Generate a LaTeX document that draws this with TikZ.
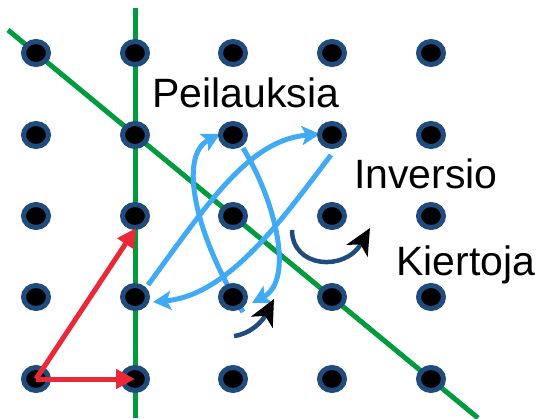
\documentclass[tikz,border=0pt]{standalone}
\usepackage{fontspec}
\setmainfont{Liberation Sans}
\usetikzlibrary{arrows.meta,shapes.geometric}
\definecolor{ringnavy}{RGB}{31,75,125}
\definecolor{axisgreen}{RGB}{0,155,60}
\definecolor{vecred}{RGB}{234,40,56}
\definecolor{flipblue}{RGB}{64,170,246}
\begin{document}
\begin{tikzpicture}[x=1pt,y=-1pt,
  dot/.style={ellipse,draw=ringnavy,fill=black,line width=5pt,
    minimum width=25pt,minimum height=23pt,inner sep=0pt},
  axis/.style={axisgreen,line width=5pt},
  vec/.style={vecred,line width=5pt,-{Triangle[length=19pt,width=19pt]}},
  flip/.style={flipblue,line width=5pt,-{Stealth[length=18pt,width=19pt,inset=4pt]}},
  turn/.style={ringnavy,line width=4.5pt,-{Stealth[length=26pt,width=24pt,inset=7pt,black]}},
  lbl/.style={anchor=base west,inner sep=0pt,font=\fontsize{41}{49}\selectfont}]
\useasboundingbox (0,0) rectangle (538,418);

% symmetry axes
\coordinate (vtop) at (135,8);
\coordinate (vbot) at (135,418);
\coordinate (dtop) at (8,30);
\coordinate (dbot) at (478,418);
\draw[axis] (vtop) -- (vbot);
\draw[axis] (dtop) -- (dbot);

% reflections (light blue loops)
\coordinate (b1s) at (148,285); \coordinate (b1e) at (320,134);
\coordinate (b2s) at (331,155); \coordinate (b2e) at (153,302);
\coordinate (b3s) at (243,312); \coordinate (b3e) at (220,134);
\coordinate (b4s) at (243,148); \coordinate (b4e) at (252,303);
\draw[flip] (b1s) .. controls (210,200) and (250,140) .. (b1e);
\draw[flip] (b2s) .. controls (285,215) and (230,295) .. (b2e);
\draw[flip] (b3s) .. controls (195,235) and (178,156) .. (b3e);
\draw[flip] (b4s) .. controls (275,200) and (295,280) .. (b4e);

% lattice points
\foreach \c/\x in {1/36,2/135,3/233,4/332,5/431}
  \foreach \r/\y in {1/53,2/135,3/216,4/297,5/379}
    \node[dot] (d\r\c) at (\x,\y) {};

% basis vectors
\coordinate (rtip) at (136,228);
\draw[vec] (d51.center) -- (d52.center);
\draw[vec] (d51.center) -- (rtip);

% rotations
\coordinate (r1s) at (292,230); \coordinate (r1e) at (370,228);
\coordinate (r2s) at (234,336); \coordinate (r2e) at (274,299);
\draw[turn] (r1s) .. controls (292,268) and (345,272) .. (r1e);
\draw[turn] (r2s) .. controls (250,334) and (262,322) .. (r2e);

% labels
\node[lbl] (tp) at (152,107) {Peilauksia};
\node[lbl] (ti) at (354,188) {Inversio};
\node[lbl] (tk) at (396,275) {Kiertoja};
\end{tikzpicture}
\end{document}
